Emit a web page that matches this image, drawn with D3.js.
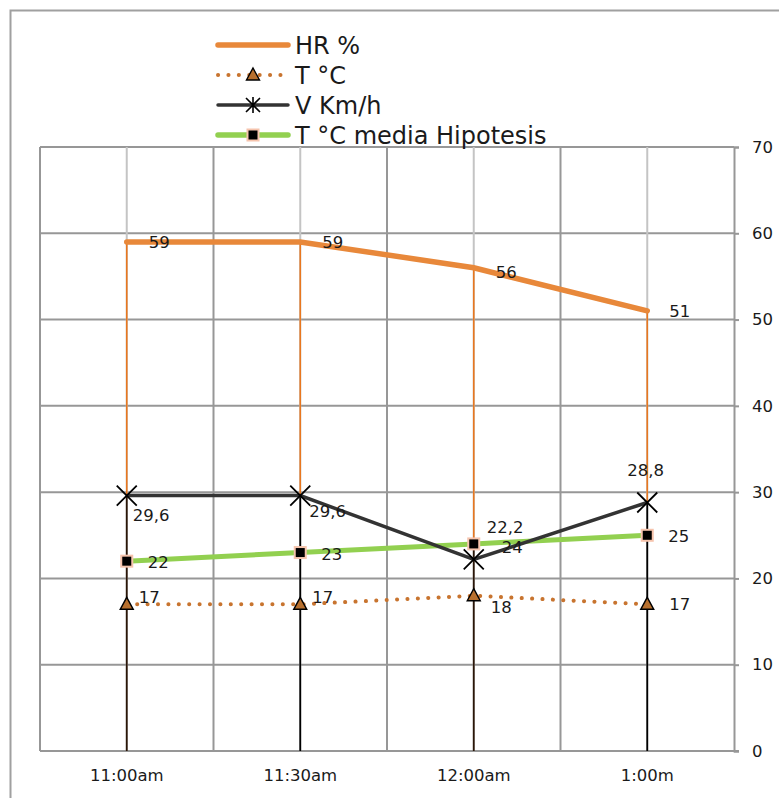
<!DOCTYPE html>
<html>
<head>
<meta charset="utf-8">
<script src="https://cdn.jsdelivr.net/npm/d3@7"></script>
<style>
  html, body { margin: 0; padding: 0; background: #fff; }
  svg { display: block; }
  text { font-family: "DejaVu Sans", sans-serif; fill: #1a1a1a; }
</style>
</head>
<body>
<svg id="chart" width="779" height="798"></svg>
<script>
const categories = ["11:00am", "11:30am", "12:00am", "1:00m"];
const hr = [59, 59, 56, 51];
const temp = [17, 17, 18, 17];
const speed = [29.6, 29.6, 22.2, 28.8];
const tempMedia = [22, 23, 24, 25];
const yTicks = [0, 10, 20, 30, 40, 50, 60, 70];
const seriesNames = ["HR %", "T °C", "V Km/h", "T °C media Hipotesis"];
const speedLabelSide = ["below", "below", "above", "above"];
const tempLabelSide = ["above", "above", "below", "mid"];

const svg = d3.select("#chart");
const fmt = v => String(v).replace(".", ",");

const margin = { left: 40, right: 734, top: 147, bottom: 751 };
const x = d3.scaleBand().domain(categories).range([margin.left, margin.right]).padding(0);
const cx = c => x(c) + x.bandwidth() / 2;
const y = d3.scaleLinear().domain([0, 70]).range([margin.bottom, margin.top]);

// outer chart border
svg.append("path").attr("d", "M10.5,798 V10.5 H779")
  .attr("fill", "none").attr("stroke", "#a0a0a0").attr("stroke-width", 2);

// horizontal gridlines + right axis
const yAxis = d3.axisRight(y).tickValues(yTicks).tickSize(5).tickPadding(13).tickFormat(d3.format("d"));
const gy = svg.append("g").attr("transform", `translate(${margin.right},0)`).call(yAxis);
gy.select(".domain").attr("stroke", "#979797").attr("stroke-width", 2);
gy.selectAll(".tick line").attr("stroke", "#979797").attr("stroke-width", 2);
gy.selectAll(".tick text").attr("font-size", 16.5).attr("fill", "#1a1a1a").attr("font-family", "DejaVu Sans");

svg.append("g").selectAll("line").data(yTicks).join("line")
  .attr("x1", margin.left).attr("x2", margin.right)
  .attr("y1", d => y(d)).attr("y2", d => y(d))
  .attr("stroke", "#979797").attr("stroke-width", 2);

// vertical gridlines at category boundaries
const bounds = categories.map(c => x(c)).concat([margin.right]);
svg.append("g").selectAll("line").data(bounds.slice(0, -1)).join("line")
  .attr("x1", d => d).attr("x2", d => d)
  .attr("y1", margin.top).attr("y2", margin.bottom)
  .attr("stroke", "#979797").attr("stroke-width", 2);
// lighter gridlines at category centers
svg.append("g").selectAll("line").data(categories).join("line")
  .attr("x1", d => cx(d)).attr("x2", d => cx(d))
  .attr("y1", margin.top).attr("y2", margin.bottom)
  .attr("stroke", "#c4c4c4").attr("stroke-width", 2);

// bottom axis
const xAxis = d3.axisBottom(x).tickSize(0).tickPadding(18);
const gx = svg.append("g").attr("transform", `translate(0,${margin.bottom})`).call(xAxis);
gx.select(".domain").attr("stroke", "#979797").attr("stroke-width", 2)
  .attr("d", `M${margin.left},0H${margin.right + 5}`);
gx.selectAll(".tick text").attr("font-size", 16.5).attr("fill", "#1a1a1a").attr("font-family", "DejaVu Sans");

// drop lines
const others = categories.map((c, i) => Math.max(temp[i], speed[i], tempMedia[i]));
svg.append("g").selectAll("line").data(categories).join("line")
  .attr("x1", d => cx(d)).attr("x2", d => cx(d))
  .attr("y1", (d, i) => y(hr[i])).attr("y2", (d, i) => y(others[i]))
  .attr("stroke", "#e8771f").attr("stroke-width", 1.6);
svg.append("g").selectAll("line").data(categories).join("line")
  .attr("x1", d => cx(d)).attr("x2", d => cx(d))
  .attr("y1", (d, i) => y(others[i])).attr("y2", y(0))
  .attr("stroke", (d, i) => i % 2 === 0 ? "#2a1608" : "#000").attr("stroke-width", 1.8);

const line = d3.line().x((d, i) => cx(categories[i])).y(d => y(d));

// T °C dotted
svg.append("path").datum(temp).attr("d", line).attr("fill", "none")
  .attr("stroke", "#c8742f").attr("stroke-width", 4)
  .attr("stroke-dasharray", "0.1 10.3").attr("stroke-linecap", "round");
// green media
svg.append("path").datum(tempMedia).attr("d", line).attr("fill", "none")
  .attr("stroke", "#92d050").attr("stroke-width", 5);
// V Km/h
svg.append("path").datum(speed).attr("d", line).attr("fill", "none")
  .attr("stroke", "#333333").attr("stroke-width", 3.5);
// HR
svg.append("path").datum(hr).attr("d", line).attr("fill", "none")
  .attr("stroke", "#e8883a").attr("stroke-width", 5.5).attr("stroke-linecap", "round");

// markers
const triPath = (px, py) => `M${px},${py - 7}L${px + 6.5},${py + 5}L${px - 6.5},${py + 5}Z`;
svg.append("g").selectAll("path").data(temp).join("path")
  .attr("d", (d, i) => triPath(cx(categories[i]), y(d)))
  .attr("fill", "#b8702e").attr("stroke", "#000").attr("stroke-width", 1.4);

svg.append("g").selectAll("rect").data(tempMedia).join("rect")
  .attr("x", (d, i) => cx(categories[i]) - 5.5).attr("y", d => y(d) - 5.5)
  .attr("width", 11).attr("height", 11)
  .attr("fill", "#000").attr("stroke", "#f6c4ad").attr("stroke-width", 2);

const starPath = (px, py) => {
  const r = 10;
  return `M${px - r},${py - r}L${px + r},${py + r}M${px - r},${py + r}L${px + r},${py - r}`;
};
svg.append("g").selectAll("path").data(speed).join("path")
  .attr("d", (d, i) => starPath(cx(categories[i]), y(d)))
  .attr("stroke", "#000").attr("stroke-width", 1.8).attr("fill", "none");

// data labels
const lbl = svg.append("g").attr("font-size", 16.5);
lbl.selectAll(".hr").data(hr).join("text")
  .attr("x", (d, i) => cx(categories[i]) + 22).attr("y", (d, i) => y(d) + (i === 2 ? 10 : 6))
  .text(d => fmt(d));
lbl.selectAll(".v").data(speed).join("text")
  .attr("x", (d, i) => speedLabelSide[i] === "below" ? cx(categories[i]) + (i === 0 ? 6 : 9) : cx(categories[i]) + (i === 3 ? -20 : 13))
  .attr("y", (d, i) => speedLabelSide[i] === "below" ? y(d) + (i === 0 ? 25 : 21) : y(d) - 26)
  .text(d => fmt(d));
lbl.selectAll(".t").data(temp).join("text")
  .attr("x", (d, i) => cx(categories[i]) + (tempLabelSide[i] === "mid" ? 22 : (tempLabelSide[i] === "below" ? 17 : 12)))
  .attr("y", (d, i) => tempLabelSide[i] === "above" ? y(d) - 1 : (tempLabelSide[i] === "below" ? y(d) + 17 : y(d) + 6))
  .text(d => fmt(d));
lbl.selectAll(".g").data(tempMedia).join("text")
  .attr("x", (d, i) => cx(categories[i]) + (i === 2 ? 28 : 21)).attr("y", (d, i) => y(d) + (i === 2 ? 9 : 7))
  .text(d => fmt(d));

// legend
const legendColors = ["#e8883a", "#c8742f", "#333333", "#92d050"];
const leg = svg.append("g");
const rows = leg.selectAll("g").data(seriesNames).join("g")
  .attr("transform", (d, i) => `translate(218,${45 + i * 30})`);
rows.append("line").attr("x1", 0).attr("x2", 70).attr("y1", 0).attr("y2", 0)
  .attr("stroke", (d, i) => legendColors[i])
  .attr("stroke-width", (d, i) => i === 1 ? 4 : (i === 2 ? 3.5 : 5.5))
  .attr("stroke-dasharray", (d, i) => i === 1 ? "0.1 10.3" : null)
  .attr("stroke-linecap", "round");
rows.filter((d, i) => i === 1).append("path").attr("d", triPath(35, 0))
  .attr("fill", "#b8702e").attr("stroke", "#000").attr("stroke-width", 1.4);
rows.filter((d, i) => i === 2).append("path").attr("d", "M28,-7L42,7M28,7L42,-7M35,-8V8")
  .attr("stroke", "#000").attr("stroke-width", 1.6);
rows.filter((d, i) => i === 3).append("rect").attr("x", 29.5).attr("y", -5.5).attr("width", 11).attr("height", 11)
  .attr("fill", "#000").attr("stroke", "#f6c4ad").attr("stroke-width", 2);
rows.append("text").attr("x", 77).attr("y", 9).attr("font-size", 24).text(d => d);
</script>
</body>
</html>
